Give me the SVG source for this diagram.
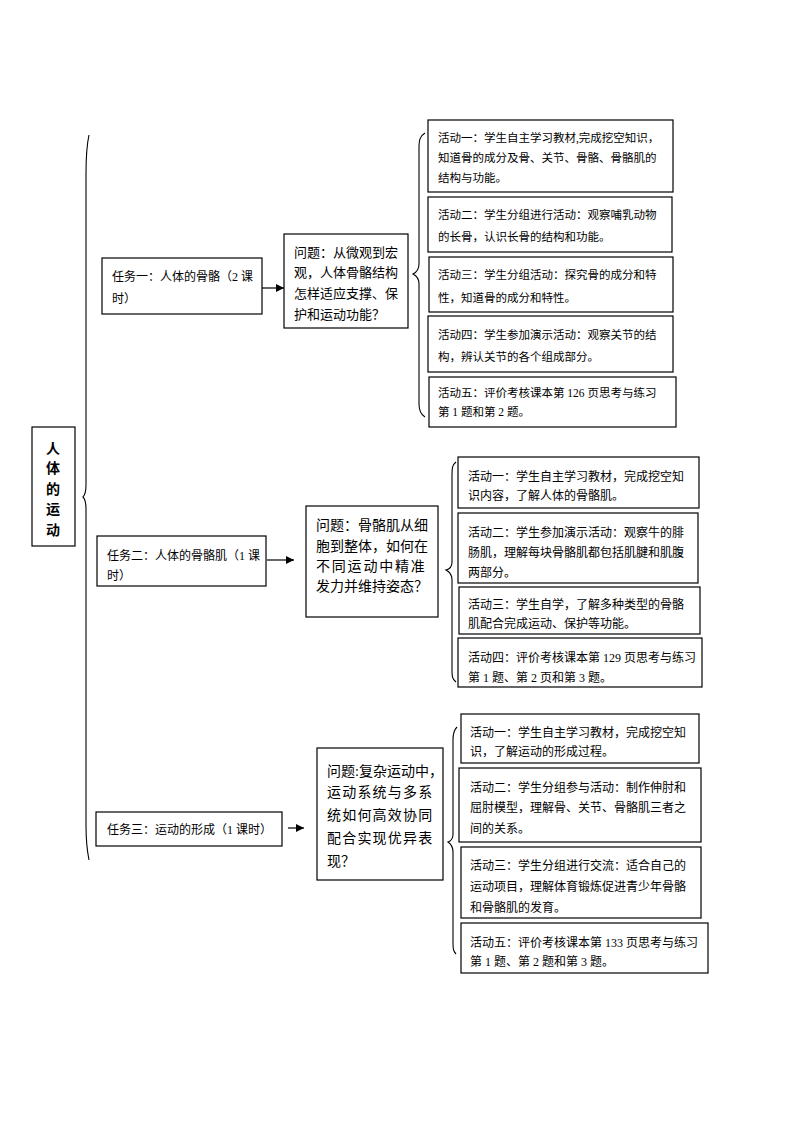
<svg xmlns="http://www.w3.org/2000/svg" width="794" height="1123" viewBox="0 0 794 1123">
<defs>
<style>
.box{fill:#fff;stroke:#000;stroke-width:1.2}
.t{font-family:"Liberation Serif","Noto Sans CJK SC",serif;fill:#000}
.a{font-size:11.5px}
.b{font-size:12px}
.q13{font-size:13px}
.q14{font-size:14px}
.title{font-family:"Noto Sans CJK SC",sans-serif;font-size:14px;font-weight:bold;text-anchor:middle}
.br{fill:none;stroke:#000;stroke-width:1.1}
.ln{stroke:#000;stroke-width:1.2;fill:none}
</style>
<marker id="ah" viewBox="0 0 10 10" refX="10" refY="5" markerWidth="8" markerHeight="8" markerUnits="userSpaceOnUse" orient="auto">
<path d="M0,0 L10,5 L0,10 z" fill="#000"/>
</marker>
</defs>
<rect width="794" height="1123" fill="#fff"/>

<g id="connectors">
<path class="br" d="M89,135 C86,148 86,160 86,175 L86,485 C86,492 85,495 83,497 C85,499 86,502 86,509 L86,825 C86,840 87,850 89,860"/>
<path class="br" d="M425,133 C420,136 419,140 419,148 L419,264 C419,269 417,272 413,274 C417,276 419,279 419,284 L419,404 C419,410 420,414 425,417"/>
<path class="br" d="M456,462 C452,465 452,469 452,475 L452,562 C452,566 450,569 446,570 C450,572 452,575 452,580 L452,670 C452,676 452,679 456,682"/>
<path class="br" d="M457,727 C454,730 453,734 453,740 L453,834 C453,838 451,841 448,842 C451,844 453,847 453,852 L453,942 C453,948 453,951 456,954"/>
<line class="ln" x1="262" y1="288" x2="284" y2="288" marker-end="url(#ah)"/>
<line class="ln" x1="267" y1="560" x2="294" y2="560" marker-end="url(#ah)"/>
<line class="ln" x1="288" y1="828" x2="304" y2="828" marker-end="url(#ah)"/>
</g>

<g id="title">
<rect class="box" x="32" y="427" width="43" height="119"/>
<text class="title" x="53"><tspan x="53" y="452.5">人</tspan><tspan x="53" y="473">体</tspan><tspan x="53" y="493.5">的</tspan><tspan x="53" y="514">运</tspan><tspan x="53" y="534.5">动</tspan></text>
</g>

<g id="task1">
<rect class="box" x="102" y="258" width="160" height="56"/>
<text class="t b"><tspan x="112" y="280.5">任务一：人体的骨骼（2 课</tspan><tspan x="112" y="302.5">时）</tspan></text>
</g>
<g id="q1">
<rect class="box" x="284" y="234" width="124" height="94"/>
<text class="t q13"><tspan x="294" y="256.5">问题：从微观到宏</tspan><tspan x="294" y="277">观，人体骨骼结构</tspan><tspan x="294" y="298">怎样适应支撑、保</tspan><tspan x="294" y="319">护和运动功能？</tspan></text>
</g>
<g id="a1-1">
<rect class="box" x="428" y="120" width="245" height="72"/>
<text class="t a"><tspan x="438" y="142">活动一：学生自主学习教材,完成挖空知识，</tspan><tspan x="438" y="162">知道骨的成分及骨、关节、骨骼、骨骼肌的</tspan><tspan x="438" y="181.5">结构与功能。</tspan></text>
</g>
<g id="a1-2">
<rect class="box" x="428" y="197" width="244" height="55"/>
<text class="t a"><tspan x="438" y="219">活动二：学生分组进行活动：观察哺乳动物</tspan><tspan x="438" y="241">的长骨，认识长骨的结构和功能。</tspan></text>
</g>
<g id="a1-3">
<rect class="box" x="429" y="257" width="244" height="55"/>
<text class="t a"><tspan x="438" y="279">活动三：学生分组活动：探究骨的成分和特</tspan><tspan x="438" y="302">性，知道骨的成分和特性。</tspan></text>
</g>
<g id="a1-4">
<rect class="box" x="428" y="316" width="245" height="56"/>
<text class="t a"><tspan x="438" y="339">活动四：学生参加演示活动：观察关节的结</tspan><tspan x="438" y="361">构，辨认关节的各个组成部分。</tspan></text>
</g>
<g id="a1-5">
<rect class="box" x="429" y="377" width="247" height="50"/>
<text class="t a"><tspan x="438" y="397">活动五：评价考核课本第 126 页思考与练习</tspan><tspan x="438" y="415.5">第 1 题和第 2 题。</tspan></text>
</g>

<g id="task2">
<rect class="box" x="97" y="536" width="169" height="50"/>
<text class="t b"><tspan x="107" y="559.5">任务二：人体的骨骼肌（1 课</tspan><tspan x="107" y="579.5">时）</tspan></text>
</g>
<g id="q2">
<rect class="box" x="306" y="506" width="132" height="111"/>
<text class="t q14"><tspan x="316" y="530">问题：骨骼肌从细</tspan><tspan x="316" y="551">胞到整体，如何在</tspan><tspan x="316" y="571" letter-spacing="1.8">不同运动中精准</tspan><tspan x="316" y="591">发力并维持姿态？</tspan></text>
</g>
<g id="a2-1">
<rect class="box" x="458" y="457" width="241" height="51"/>
<text class="t b"><tspan x="468" y="480.5">活动一：学生自主学习教材，完成挖空知</tspan><tspan x="468" y="499.5">识内容，了解人体的骨骼肌。</tspan></text>
</g>
<g id="a2-2">
<rect class="box" x="458" y="513" width="240" height="70"/>
<text class="t b"><tspan x="468" y="536.5">活动二：学生参加演示活动：观察牛的腓</tspan><tspan x="468" y="556.5">肠肌，理解每块骨骼肌都包括肌腱和肌腹</tspan><tspan x="468" y="576.5">两部分。</tspan></text>
</g>
<g id="a2-3">
<rect class="box" x="459" y="587" width="241" height="47"/>
<text class="t b"><tspan x="468" y="608.5">活动三：学生自学，了解多种类型的骨骼</tspan><tspan x="468" y="627.5">肌配合完成运动、保护等功能。</tspan></text>
</g>
<g id="a2-4">
<rect class="box" x="458" y="638" width="244" height="49"/>
<text class="t b"><tspan x="468" y="661.5">活动四：评价考核课本第 129 页思考与练习</tspan><tspan x="468" y="681.5">第 1 题、第 2 页和第 3 题。</tspan></text>
</g>

<g id="task3">
<rect class="box" x="96" y="812" width="186" height="34"/>
<text class="t b" x="107" y="833.5">任务三：运动的形成（1 课时）</text>
</g>
<g id="q3">
<rect class="box" x="317" y="748" width="126" height="132"/>
<text class="t q14"><tspan x="327" y="776">问题:复杂运动中，</tspan><tspan x="327" y="797" letter-spacing="1.2">运动系统与多系</tspan><tspan x="327" y="820" letter-spacing="1.2">统如何高效协同</tspan><tspan x="327" y="843" letter-spacing="1.2">配合实现优异表</tspan><tspan x="327" y="866">现？</tspan></text>
</g>
<g id="a3-1">
<rect class="box" x="461" y="714" width="238" height="49"/>
<text class="t b"><tspan x="470" y="736.5">活动一：学生自主学习教材，完成挖空知</tspan><tspan x="470" y="755.5">识，了解运动的形成过程。</tspan></text>
</g>
<g id="a3-2">
<rect class="box" x="459" y="768" width="242" height="74"/>
<text class="t b"><tspan x="470" y="791.5">活动二：学生分组参与活动：制作伸肘和</tspan><tspan x="470" y="811.5">屈肘模型，理解骨、关节、骨骼肌三者之</tspan><tspan x="470" y="832.5">间的关系。</tspan></text>
</g>
<g id="a3-3">
<rect class="box" x="461" y="847" width="240" height="71"/>
<text class="t b"><tspan x="470" y="869.5">活动三：学生分组进行交流：适合自己的</tspan><tspan x="470" y="890.5">运动项目，理解体育锻炼促进青少年骨骼</tspan><tspan x="470" y="911.5">和骨骼肌的发育。</tspan></text>
</g>
<g id="a3-4">
<rect class="box" x="461" y="923" width="247" height="50"/>
<text class="t b"><tspan x="470" y="946.5">活动五：评价考核课本第 133 页思考与练习</tspan><tspan x="470" y="965.5">第 1 题、第 2 题和第 3 题。</tspan></text>
</g>
</svg>
